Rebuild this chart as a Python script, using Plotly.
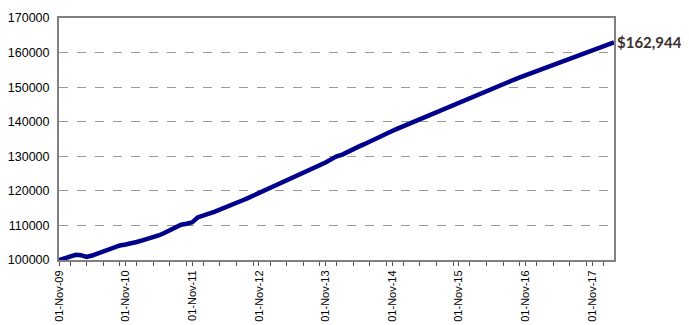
import plotly.graph_objects as go
import pandas as pd

start_month = "2009-11-01"
values = [
    100000, 100600, 101200, 101500, 101400, 100900, 101300, 101900, 102400, 102900,
    103600, 104200, 104500, 104700, 105200, 105700, 106100, 106500, 107100, 107800,
    108600, 109500, 110200, 110500, 110900, 112300, 113000, 113400, 113900, 114500,
    115200, 115900, 116500, 117200, 117900, 118600, 119500, 120300, 121000, 121800,
    122400, 123100, 123800, 124600, 125300, 126000, 126700, 127400, 128200, 129100,
    130000, 130500, 131300, 132100, 132800, 133500, 134300, 135000, 135700, 136500,
    137300, 138000, 138700, 139400, 140100, 140800, 141400, 142100, 142800, 143500,
    144200, 144800, 145500, 146100, 146800, 147500, 148200, 148800, 149600, 150300,
    150900, 151600, 152200, 152800, 153400, 154000, 154600, 155200, 155800, 156400,
    157000, 157600, 158200, 158800, 159500, 160200, 160800, 161300, 161900, 162400,
    162944,
]
dates = pd.date_range(start_month, periods=len(values), freq="MS")
end_label = "$162,944"

fig = go.Figure()
fig.add_trace(go.Scatter(x=dates, y=values, mode="lines",
                         line=dict(color="#00008B", width=4.5), hoverinfo="skip"))

fig.add_annotation(x=dates[-1], y=values[-1], text=f"<b>{end_label}</b>",
                   showarrow=False, xanchor="left", yanchor="middle", xshift=1,
                   font=dict(family="Lato", size=15, color="#3b3030"))

fig.update_layout(
    width=681, height=317,
    margin=dict(l=51, r=75, t=10, b=65, autoexpand=False),
    paper_bgcolor="white", plot_bgcolor="white",
    showlegend=False,
    font=dict(family="Arial", size=12.5, color="black"),
)
fig.update_yaxes(range=[100000, 170000], dtick=10000, tickformat="d",
                 showgrid=True, gridcolor="#9a9a9a", griddash="dash", gridwidth=1,
                 showline=True, linecolor="#808080", linewidth=2, mirror=True,
                 ticks="", ticklabelstandoff=5, zeroline=False, automargin=False)
fig.update_xaxes(range=[dates[0], dates[-1]], tick0=start_month, dtick="M12",
                 tickformat="%d-%b-%y", tickangle=-90, tickfont=dict(size=11),
                 ticks="outside", ticklen=4, tickcolor="#505050",
                 minor=dict(dtick="M3", ticks="outside", ticklen=4, tickcolor="#505050"),
                 showgrid=False, showline=True, linecolor="#808080", linewidth=2,
                 mirror=True, zeroline=False, automargin=False)

fig.write_html("out.html")
